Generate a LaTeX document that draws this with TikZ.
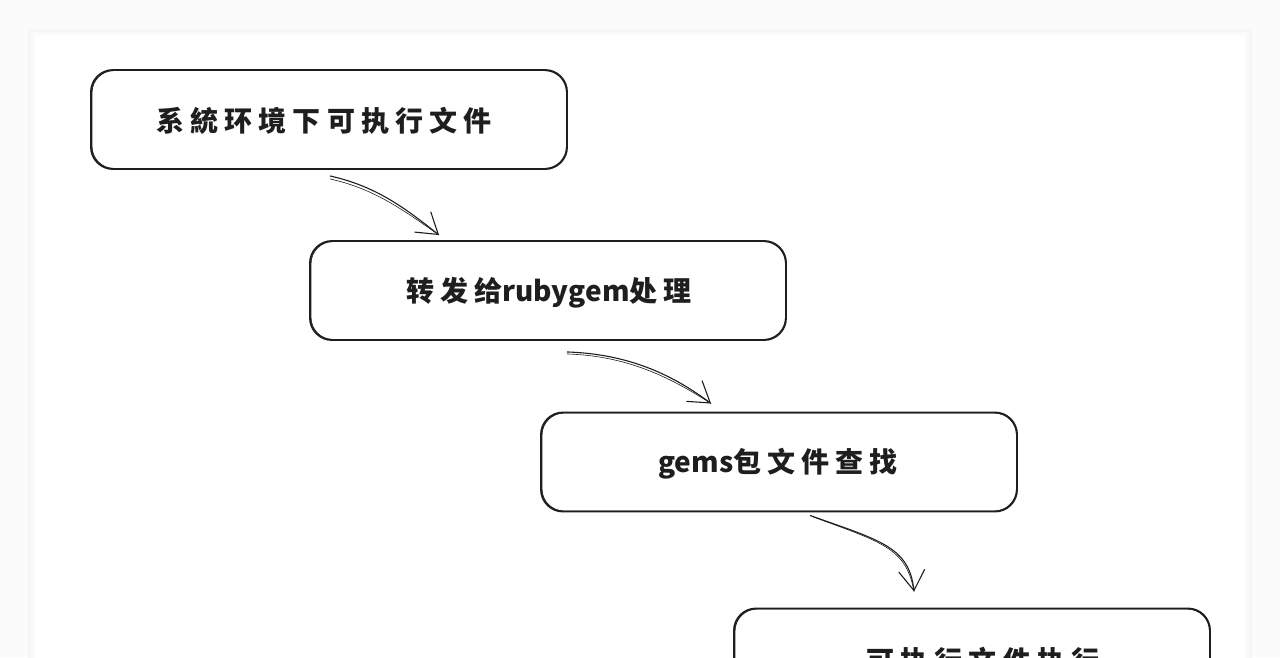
\documentclass[tikz,border=0pt]{standalone}
\usepackage{fontspec}
\newfontfamily\cjk[LetterSpace=22]{Noto Sans CJK SC}
\newfontfamily\lat{Noto Sans CJK SC}
\usetikzlibrary{arrows.meta,calc}
\definecolor{ink}{HTML}{1E1E1E}
\tikzset{
  x=1pt,y=-1pt,
  flowbox/.style={draw=ink, line width=1.9pt, rounded corners=22pt,
    minimum width=476pt, minimum height=99pt, fill=white, inner sep=0pt},
  sketchline/.style={draw=ink, line width=0.7pt, rounded corners=22pt},
  flowtext/.style={font=\bfseries\fontsize{28}{32}\selectfont, text=ink, inner sep=0pt},
  flowarrow/.style={draw=ink, line width=1.1pt,
    -{Straight Barb[length=20pt,width=26pt,line width=1.1pt]}},
  sketcharrow/.style={draw=ink, line width=0.6pt},
}
\begin{document}
\begin{tikzpicture}
\useasboundingbox (0,0) rectangle (1280,657);
\fill[gray!3] (0,0) rectangle (1280,657);
\fill[gray!7] (28,30) rectangle (1252,700);
\fill[gray!4] (31,32) rectangle (1249,700);
\fill[white] (35,35) rectangle (1245,700);

% boxes
\node[flowbox] (b1) at (329,119.5) {};
\node[flowbox] (b2) at (548,290.5) {};
\node[flowbox] (b3) at (779,462) {};
\node[flowbox] (b4) at (972,658) {};

% sketchy second strokes
\foreach \b in {b1,b2,b3,b4}{
  \draw[sketchline] ($(\b.south west)+(2,-1.5)$) rectangle ($(\b.north east)+(-1.5,1.5)$);
}

% labels
\node[flowtext] (t1) at (324,121) {\cjk 系統环境下可执行文件};
\node[flowtext] (t2) at (549,293) {{\cjk 转发给}{\lat rubygem}{\cjk 处理}};
\node[flowtext] (t3) at (778,464) {{\lat gems}{\cjk 包文件查找}};
\node[flowtext] (t4) at (983,661) {\cjk 可执行文件执行};

% connectors
\coordinate (s1) at ($(b1.south)+(1,6)$);
\coordinate (e1) at ($(b2.north west)+(130,-5)$);
\coordinate (s2) at ($(b2.south)+(19,11)$);
\coordinate (e2) at ($(b3.north west)+(171,-8)$);
\coordinate (s3) at ($(b3.south)+(31,3)$);
\coordinate (e3) at ($(b4.north west)+(181,-16)$);

\draw[flowarrow] (s1) .. controls ($(s1)+(45,10)$) and ($(e1)+(-35,-28)$) .. (e1);
\draw[sketcharrow] ($(s1)+(0,3)$) .. controls ($(s1)+(45,13)$) and ($(e1)+(-36,-25)$) .. (e1);
\draw[flowarrow] (s2) .. controls ($(s2)+(60,2)$) and ($(e2)+(-40,-30)$) .. (e2);
\draw[sketcharrow] ($(s2)+(0,2)$) .. controls ($(s2)+(60,4)$) and ($(e2)+(-42,-27)$) .. (e2);
\draw[flowarrow] (s3) .. controls ($(s3)+(70,25)$) and ($(e3)+(-5,-45)$) .. (e3);
\draw[sketcharrow] ($(s3)+(2,1)$) .. controls ($(s3)+(72,27)$) and ($(e3)+(-8,-44)$) .. (e3);
\end{tikzpicture}
\end{document}
